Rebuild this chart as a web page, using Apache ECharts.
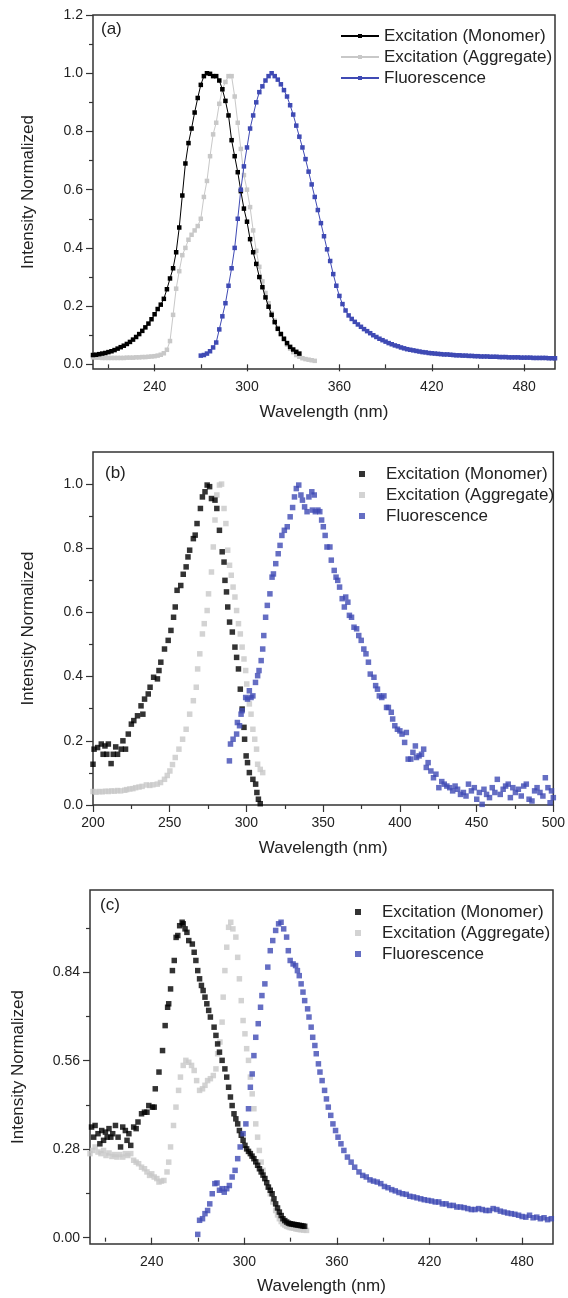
<!DOCTYPE html>
<html>
<head>
<meta charset="utf-8">
<script src="https://cdn.jsdelivr.net/npm/echarts@6/dist/echarts.min.js"></script>
<style>
html,body{margin:0;padding:0;background:#fff;}
#chart{width:568px;height:1298px;}
</style>
</head>
<body>
<div id="chart"></div>
<script>
// ---------- DATA ----------
const seriesNames = ['Excitation (Monomer)', 'Excitation (Aggregate)', 'Fluorescence'];
const panelLabels = ['(a)', '(b)', '(c)'];
const xTitle = 'Wavelength (nm)';
const yTitle = 'Intensity Normalized';

// tick labels
const xLabelsA = [240, 300, 360, 420, 480];
const xMinorA = [210, 270, 330, 390, 450];
const yLabelsA = [0, 0.2, 0.4, 0.6, 0.8, 1.0, 1.2];
const yMinorA = [0.1, 0.3, 0.5, 0.7, 0.9, 1.1];
const xLabelsB = [200, 250, 300, 350, 400, 450, 500];
const xMinorB = [225, 275, 325, 375, 425, 475];
const yLabelsB = [0, 0.2, 0.4, 0.6, 0.8, 1.0];
const yMinorB = [0.1, 0.3, 0.5, 0.7, 0.9];
const xLabelsC = [240, 300, 360, 420, 480];
const xMinorC = [210, 270, 330, 390, 450];
const yLabelsC = [0, 0.28, 0.56, 0.84];
const yMinorC = [0.14, 0.42, 0.70, 0.98];

// Panel (a): [wavelength, intensity]
const aMonomer = [[200,0.032],[202,0.033],[204,0.035],[206,0.037],[208,0.039],[210,0.042],[212,0.045],[214,0.049],[216,0.054],[218,0.059],[220,0.064],[222,0.070],[224,0.077],[226,0.085],[228,0.094],[230,0.104],[232,0.115],[234,0.127],[236,0.140],[238,0.155],[240,0.172],[242,0.190],[244,0.205],[246,0.225],[248,0.258],[250,0.295],[252,0.330],[254,0.385],[256,0.470],[258,0.580],[260,0.690],[262,0.760],[264,0.810],[266,0.865],[268,0.915],[270,0.960],[272,0.990],[274,1.000],[276,0.998],[278,0.990],[280,0.990],[282,0.975],[284,0.945],[286,0.905],[288,0.855],[290,0.770],[292,0.715],[294,0.660],[296,0.595],[298,0.535],[300,0.490],[302,0.430],[304,0.385],[306,0.345],[308,0.300],[310,0.265],[312,0.230],[314,0.198],[316,0.170],[318,0.145],[320,0.122],[322,0.104],[324,0.088],[326,0.073],[328,0.060],[330,0.051],[332,0.043],[334,0.037]];
const aAggregate = [[200,0.024],[202,0.023],[204,0.023],[206,0.022],[208,0.022],[210,0.022],[212,0.022],[214,0.022],[216,0.022],[218,0.022],[220,0.022],[222,0.023],[224,0.023],[226,0.023],[228,0.024],[230,0.024],[232,0.025],[234,0.025],[236,0.026],[238,0.027],[240,0.028],[242,0.030],[244,0.033],[246,0.038],[248,0.050],[250,0.080],[252,0.170],[254,0.260],[256,0.320],[258,0.375],[260,0.400],[262,0.428],[264,0.445],[266,0.460],[268,0.475],[270,0.500],[272,0.575],[274,0.630],[276,0.715],[278,0.790],[280,0.830],[282,0.895],[284,0.945],[286,0.970],[288,0.990],[290,0.990],[292,0.920],[294,0.830],[296,0.740],[298,0.650],[300,0.600],[302,0.540],[304,0.460],[306,0.390],[308,0.335],[310,0.285],[312,0.245],[314,0.210],[316,0.175],[318,0.150],[320,0.125],[322,0.105],[324,0.085],[326,0.068],[328,0.054],[330,0.042],[332,0.032],[334,0.026],[336,0.021],[338,0.018],[340,0.016],[342,0.014],[344,0.012]];
const aFluorescence = [[270,0.030],[272,0.032],[274,0.037],[276,0.045],[278,0.058],[280,0.075],[282,0.120],[284,0.165],[286,0.210],[288,0.270],[290,0.330],[292,0.400],[294,0.500],[296,0.600],[298,0.680],[300,0.745],[302,0.810],[304,0.855],[306,0.900],[308,0.935],[310,0.955],[312,0.975],[314,0.990],[316,1.000],[318,0.990],[320,0.978],[322,0.962],[324,0.942],[326,0.920],[328,0.890],[330,0.858],[332,0.820],[334,0.782],[336,0.745],[338,0.705],[340,0.662],[342,0.618],[344,0.575],[346,0.530],[348,0.485],[350,0.440],[352,0.395],[354,0.355],[356,0.310],[358,0.270],[360,0.235],[362,0.207],[364,0.185],[366,0.168],[368,0.156],[370,0.146],[372,0.137],[374,0.129],[376,0.121],[378,0.114],[380,0.107],[382,0.100],[384,0.094],[386,0.088],[388,0.083],[390,0.078],[392,0.073],[394,0.069],[396,0.065],[398,0.062],[400,0.058],[402,0.055],[404,0.052],[406,0.050],[408,0.048],[410,0.046],[412,0.044],[414,0.042],[416,0.041],[418,0.039],[420,0.038],[422,0.037],[424,0.036],[426,0.035],[428,0.034],[430,0.034],[432,0.033],[434,0.032],[436,0.031],[438,0.031],[440,0.030],[442,0.030],[444,0.029],[446,0.029],[448,0.028],[450,0.028],[452,0.027],[454,0.027],[456,0.027],[458,0.026],[460,0.026],[462,0.026],[464,0.025],[466,0.025],[468,0.025],[470,0.024],[472,0.024],[474,0.024],[476,0.024],[478,0.023],[480,0.023],[482,0.023],[484,0.023],[486,0.022],[488,0.022],[490,0.022],[492,0.022],[494,0.022],[496,0.021],[498,0.021],[500,0.021]];

// Panel (b)
const bMonomer = [[200,0.127],[200.7,0.174],[203,0.179],[205.4,0.19],[206.6,0.158],[207.8,0.184],[209,0.158],[210,0.19],[211.8,0.129],[213.2,0.158],[214.8,0.181],[216,0.158],[218.4,0.174],[219.5,0.2],[221.2,0.174],[223,0.221],[225,0.252],[226.6,0.263],[229,0.278],[231.3,0.309],[232.5,0.283],[233.6,0.33],[236,0.346],[237.2,0.367],[239.5,0.398],[242,0.393],[243,0.419],[244.2,0.445],[246.6,0.486],[249,0.513],[250.8,0.544],[252.5,0.585],[253.6,0.617],[254.8,0.669],[257.2,0.684],[258.8,0.719],[260.7,0.742],[261.9,0.773],[263,0.794],[265.4,0.83],[266.6,0.841],[267.8,0.877],[270,0.924],[271.3,0.96],[273,0.976],[274.4,0.997],[276,0.992],[277.2,0.955],[279.5,0.95],[280.7,0.924],[282.4,0.856],[284.2,0.789],[285.4,0.757],[286,0.7],[287,0.664],[287.8,0.617],[289,0.57],[290.8,0.539],[292.5,0.492],[293.6,0.46],[294.8,0.424],[296,0.361],[297.2,0.299],[298.4,0.242],[298.8,0.205],[299.8,0.153],[300.7,0.132],[301.9,0.101],[304.2,0.08],[306,0.065],[306.8,0.039],[307.8,0.018],[309,0.004]];
const bAggregate = [[200,0.042],[202,0.040],[204,0.042],[206,0.041],[208,0.043],[210,0.042],[212,0.044],[214,0.043],[216,0.045],[218,0.044],[220.7,0.046],[222,0.048],[224,0.050],[226,0.051],[227.8,0.054],[230,0.056],[232,0.058],[234.8,0.0625],[237,0.061],[239,0.063],[241.9,0.065],[244,0.070],[246.6,0.08],[248.4,0.092],[250.1,0.106],[251.8,0.126],[253.6,0.148],[256,0.174],[258.4,0.205],[260.7,0.236],[263,0.283],[265.4,0.325],[267.3,0.367],[268.2,0.424],[269.6,0.471],[271.3,0.533],[272.5,0.565],[274.4,0.606],[275.3,0.658],[277.2,0.726],[278.4,0.804],[279.5,0.888],[280.7,0.966],[282.4,0.997],[283.8,1.0],[285.4,0.924],[286.6,0.877],[287.8,0.794],[289,0.747],[290.1,0.716],[291.3,0.679],[292.5,0.648],[293.6,0.606],[294.8,0.565],[296,0.533],[297.2,0.492],[298.4,0.455],[299.5,0.419],[300.2,0.377],[301.9,0.315],[303,0.283],[304.2,0.236],[305.4,0.205],[306.6,0.174],[307.3,0.127],[309,0.111],[310.6,0.101]];
const bFluorescence = [[288.9,0.1375],[289.6,0.19],[291.3,0.205],[293.6,0.221],[294.1,0.257],[295.5,0.247],[296.5,0.283],[297.2,0.294],[299.5,0.335],[300.7,0.33],[301.9,0.356],[303,0.335],[304.2,0.34],[305.9,0.382],[307.3,0.403],[308.2,0.419],[309.6,0.45],[310.6,0.486],[311.3,0.528],[312.5,0.585],[313.6,0.622],[315.3,0.658],[316.7,0.71],[317.6,0.72],[319.1,0.752],[320.7,0.783],[321.9,0.809],[323.1,0.84],[324.7,0.856],[326.6,0.867],[328.5,0.898],[330.1,0.927],[331.3,0.96],[332.5,0.986],[334.1,0.997],[335.5,0.966],[336.5,0.95],[337.9,0.929],[339.5,0.914],[340.7,0.96],[342.6,0.976],[344.2,0.966],[343,0.919],[344.9,0.914],[346.6,0.919],[347.8,0.914],[349,0.888],[350.1,0.867],[351.3,0.84],[352.5,0.804],[354.4,0.804],[355.3,0.763],[357.2,0.731],[358.4,0.71],[359.5,0.7],[360.7,0.679],[362.4,0.643],[363.8,0.617],[364.7,0.648],[366.1,0.632],[367.1,0.591],[368.5,0.585],[370.1,0.554],[371.8,0.549],[373.2,0.528],[374.8,0.513],[376.5,0.486],[377.9,0.471],[379.5,0.445],[380.7,0.408],[383.1,0.398],[384.2,0.372],[385.4,0.361],[386.6,0.34],[388.2,0.335],[389.6,0.34],[391.3,0.304],[392.5,0.304],[394.4,0.289],[395.3,0.268],[396.7,0.247],[398.4,0.236],[400,0.231],[401.4,0.221],[403.1,0.195],[404.2,0.226],[405.4,0.143],[407.1,0.143],[408.5,0.164],[410.1,0.184],[410.8,0.148],[412.5,0.153],[414.1,0.158],[415.5,0.174],[417.2,0.117],[418.4,0.132],[420.2,0.106],[421.9,0.085],[423.5,0.096],[425.4,0.054],[427.3,0.073],[428.9,0.065],[430.6,0.059],[432.5,0.054],[434.4,0.044],[436,0.059],[437.6,0.049],[439.5,0.033],[441.4,0.039],[443.1,0.028],[444.7,0.065],[446.6,0.044],[448.5,0.054],[450.1,0.018],[451.8,0.039],[453.6,0.002],[454.8,0.049],[456.5,0.033],[458.4,0.023],[460.2,0.054],[461.9,0.039],[463.5,0.08],[465.4,0.033],[467.3,0.049],[468.9,0.059],[470.6,0.065],[472,0.023],[473.6,0.054],[475.3,0.039],[477.2,0.049],[479.1,0.028],[480.7,0.059],[482.4,0.065],[484.2,0.018],[486.1,0.0125],[487.8,0.044],[489.4,0.054],[491.3,0.039],[493.2,0.028],[494.8,0.085],[496.5,0.054],[497.9,0.007],[498.8,0.044],[500,0.023]];

// Panel (c)
const cMonomer = [[201,0.35],[202.4,0.318],[203.3,0.355],[205.2,0.329],[206.4,0.297],[207.6,0.339],[208.8,0.308],[210,0.334],[211.1,0.318],[212.3,0.345],[213.5,0.318],[214.7,0.329],[216.5,0.355],[218.2,0.318],[219.8,0.287],[221.2,0.35],[222.9,0.339],[224,0.308],[225.2,0.329],[226.4,0.292],[228.3,0.35],[229.9,0.345],[231.1,0.366],[233.4,0.392],[235.3,0.397],[236.9,0.397],[238.1,0.418],[240.5,0.413],[241.6,0.413],[242.3,0.471],[244.7,0.524],[247,0.592],[248.7,0.671],[250.3,0.729],[251,0.74],[252.2,0.787],[253.4,0.845],[254.6,0.877],[255.8,0.95],[256.9,0.956],[258.1,0.987],[259.7,0.998],[260.4,0.993],[261.6,0.977],[262.8,0.966],[264,0.94],[266.3,0.929],[267.5,0.903],[268.6,0.877],[269.8,0.845],[271,0.819],[272.2,0.798],[273.3,0.782],[274.5,0.761],[275.7,0.74],[276.9,0.719],[278,0.698],[280.4,0.666],[281.6,0.64],[282.7,0.613],[283.9,0.587],[285.6,0.561],[287.4,0.534],[288.6,0.508],[289.8,0.476],[291,0.445],[292.1,0.418],[293.3,0.392],[294.5,0.376],[295.7,0.36],[296.8,0.339],[298,0.324],[299.2,0.308],[300.4,0.292],[301.5,0.281],[302.7,0.273],[303.9,0.266],[305,0.258],[306.2,0.25],[307.4,0.24],[308.6,0.229],[309.8,0.218],[310.9,0.208],[312.1,0.198],[313.3,0.187],[314.5,0.174],[315.6,0.16],[316.8,0.15],[318,0.139],[319.2,0.123],[320.3,0.107],[321.5,0.094],[322.7,0.081],[323.9,0.07],[325,0.06],[326.2,0.054],[327.4,0.0495],[328.6,0.046],[329.7,0.044],[330.9,0.043],[332.1,0.042],[333.3,0.041],[334.4,0.04],[335.6,0.039],[336.8,0.038],[338,0.037],[339.1,0.036]];
const cAggregate = [[200,0.266],[201.7,0.276],[203.3,0.287],[205.2,0.271],[207.1,0.266],[208.8,0.276],[210.4,0.26],[212.3,0.268],[214.2,0.257],[215.8,0.263],[217.5,0.255],[219.3,0.263],[221.2,0.255],[222.9,0.266],[224.5,0.26],[226.4,0.266],[228.3,0.245],[229.9,0.239],[231.5,0.234],[233.4,0.223],[235.3,0.218],[236.9,0.208],[238.6,0.197],[240,0.202],[241.6,0.192],[243.3,0.187],[244.7,0.176],[246.3,0.179],[247.9,0.181],[249.9,0.208],[251,0.239],[252.2,0.287],[254.1,0.355],[255.7,0.413],[257.4,0.466],[258.6,0.508],[260.4,0.545],[262.1,0.561],[264,0.555],[265.8,0.545],[267.5,0.529],[269.1,0.497],[271,0.466],[272.9,0.471],[274.5,0.482],[276.2,0.497],[278,0.503],[279.9,0.513],[281.6,0.534],[282.7,0.582],[284.2,0.619],[285.6,0.682],[286.3,0.761],[287.4,0.845],[288.6,0.919],[289.8,0.982],[291.2,0.998],[292.6,0.977],[294.5,0.951],[295.7,0.887],[296.8,0.819],[298,0.75],[299.2,0.687],[300.4,0.645],[301.5,0.598],[302.7,0.561],[303.9,0.508],[305.1,0.455],[306.2,0.408],[307.4,0.36],[308.6,0.318],[309.7,0.276],[310.9,0.239],[312.1,0.213],[313.3,0.187],[315.2,0.16],[316.8,0.139],[318.4,0.113],[320.3,0.086],[321.5,0.072],[322.7,0.06],[323.9,0.051],[325,0.044],[326.2,0.04],[327.4,0.036],[328.6,0.034],[329.7,0.032],[330.9,0.031],[332.1,0.03],[333.3,0.028],[334.4,0.027],[335.6,0.026],[336.8,0.025],[338.5,0.024],[340.3,0.023]];
const cFluorescence = [[269.8,0.0105],[271,0.055],[272.9,0.06],[274.5,0.076],[276.2,0.086],[277.6,0.107],[279.2,0.139],[280.9,0.171],[282.3,0.173],[283.9,0.15],[285.6,0.155],[287,0.144],[288.6,0.155],[290.3,0.165],[292.1,0.192],[294,0.213],[295.7,0.25],[297.3,0.287],[299.2,0.329],[301,0.36],[302.7,0.408],[303.9,0.476],[305.1,0.518],[306.2,0.576],[307.4,0.634],[309,0.677],[310.5,0.729],[311.4,0.766],[313.3,0.803],[315.2,0.856],[316.8,0.908],[318.4,0.94],[320.3,0.972],[322.2,0.993],[323.8,0.998],[325.5,0.977],[327.4,0.951],[328.5,0.908],[329.7,0.877],[331.6,0.866],[333.2,0.861],[334.4,0.845],[335.6,0.829],[336.8,0.803],[338,0.777],[339.1,0.75],[341,0.724],[341.9,0.698],[343.3,0.666],[344.3,0.634],[345.7,0.608],[346.6,0.582],[348,0.55],[349,0.524],[350.4,0.497],[352,0.466],[353.2,0.439],[354.4,0.413],[356,0.387],[357.4,0.36],[359.1,0.339],[360.7,0.318],[362.6,0.297],[364.5,0.276],[366.8,0.255],[369.2,0.239],[371.5,0.223],[374.3,0.208],[376.7,0.197],[379,0.192],[381.4,0.183],[383.7,0.179],[386.1,0.176],[388.4,0.171],[390.8,0.162],[393.1,0.158],[395.5,0.152],[397.8,0.148],[400.2,0.143],[402.5,0.139],[404.9,0.137],[407.2,0.131],[409.6,0.129],[411.9,0.126],[414.3,0.123],[416.6,0.12],[419,0.118],[421.3,0.116],[423.7,0.113],[426,0.113],[428.3,0.107],[430.7,0.107],[433,0.102],[435.4,0.102],[437.7,0.097],[440.1,0.097],[442.4,0.095],[444.8,0.092],[447.1,0.089],[449.5,0.089],[451.8,0.092],[454.2,0.089],[456.5,0.086],[458.8,0.086],[461.2,0.092],[463.6,0.089],[465.9,0.084],[468.3,0.081],[470.6,0.078],[473,0.076],[475.3,0.074],[477.7,0.071],[480,0.067],[482.4,0.065],[484.8,0.071],[487.1,0.063],[489.5,0.065],[491.8,0.06],[494.2,0.063],[496.5,0.057],[498.9,0.06]];

// ---------- CHART ----------
const FONT = '"Liberation Sans", Arial, Helvetica, sans-serif';
const COLORS = ['#000000', '#c8c8c8', '#3f4ab4'];
const AXIS_COLOR = '#333333';
const TEXT_COLOR = '#222222';

const panels = [
  { grid: {left: 93, top: 15, width: 462, height: 354}, yMin: -0.016, yMax: 1.2,
    xLab: xLabelsA, xMin: xMinorA, yLab: yLabelsA, yMin2: yMinorA, yDec: 1,
    data: [aMonomer, aAggregate, aFluorescence], type: 'line', sym: 4.5,
    xNameGap: 35, yNameGap: 56,
    legend: {left: 335, top: 21}, label: {left: 101, top: 21} },
  { grid: {left: 93, top: 452, width: 464, height: 353}, yMin: 0, yMax: 1.1,
    xLab: xLabelsB, xMin: xMinorB, yLab: yLabelsB, yMin2: yMinorB, yDec: 1,
    data: [bMonomer, bAggregate, bFluorescence], type: 'scatter', sym: 5.5,
    xNameGap: 35, yNameGap: 56,
    legend: {left: 354, top: 459}, label: {left: 105, top: 465} },
  { grid: {left: 90, top: 890, width: 463, height: 354}, yMin: -0.02, yMax: 1.1,
    xLab: xLabelsC, xMin: xMinorC, yLab: yLabelsC, yMin2: yMinorC, yDec: 2,
    data: [cMonomer, cAggregate, cFluorescence], type: 'scatter', sym: 5.5,
    xNameGap: 34, yNameGap: 63,
    legend: {left: 350, top: 897}, label: {left: 100, top: 897} }
];

const option = {
  animation: false,
  backgroundColor: '#ffffff',
  textStyle: {fontFamily: FONT},
  grid: [], xAxis: [], yAxis: [], series: [], legend: [], title: []
};

const suffix = ['|a', '|b', '|c'];
const drawOrder = [1, 0, 2];

panels.forEach((p, i) => {
  option.grid.push(Object.assign({show: true, borderColor: AXIS_COLOR, borderWidth: 1.5,
    backgroundColor: 'transparent'}, p.grid));
  const tickStyle = {color: AXIS_COLOR, width: 1.2};
  option.xAxis.push({
    type: 'value', gridIndex: i, min: 200, max: 500, position: 'bottom',
    axisLine: {show: false},
    axisTick: {show: true, length: 7, customValues: p.xLab, lineStyle: tickStyle},
    axisLabel: {customValues: p.xLab, margin: 11, fontSize: 14, color: TEXT_COLOR, fontFamily: FONT,
      formatter: v => String(Math.round(v))},
    splitLine: {show: false},
    name: xTitle, nameLocation: 'middle', nameGap: p.xNameGap,
    nameTextStyle: {fontSize: 17, color: TEXT_COLOR, fontFamily: FONT}
  });
  option.xAxis.push({
    type: 'value', gridIndex: i, min: 200, max: 500, position: 'bottom',
    axisLine: {show: false},
    axisTick: {show: true, length: 4, customValues: p.xMin, lineStyle: tickStyle},
    axisLabel: {show: false}, splitLine: {show: false}
  });
  option.yAxis.push({
    type: 'value', gridIndex: i, min: p.yMin, max: p.yMax, position: 'left',
    axisLine: {show: false},
    axisTick: {show: true, length: 7, customValues: p.yLab, lineStyle: tickStyle},
    axisLabel: {customValues: p.yLab, margin: 10, fontSize: 14, color: TEXT_COLOR, fontFamily: FONT,
      formatter: v => Number(v).toFixed(p.yDec)},
    splitLine: {show: false},
    name: yTitle, nameLocation: 'middle', nameGap: p.yNameGap, nameRotate: 90,
    nameTextStyle: {fontSize: 17, color: TEXT_COLOR, fontFamily: FONT}
  });
  option.yAxis.push({
    type: 'value', gridIndex: i, min: p.yMin, max: p.yMax, position: 'left',
    axisLine: {show: false},
    axisTick: {show: true, length: 4, customValues: p.yMin2, lineStyle: tickStyle},
    axisLabel: {show: false}, splitLine: {show: false}
  });

  drawOrder.forEach(k => {
    const s = {
      name: seriesNames[k] + suffix[i],
      type: p.type,
      xAxisIndex: i * 2, yAxisIndex: i * 2,
      data: p.data[k],
      symbol: 'rect', symbolSize: p.sym,
      itemStyle: {color: COLORS[k]},
      z: 2 + (k === 1 ? 0 : 1)
    };
    if (p.type === 'line') {
      s.showSymbol = true; s.showAllSymbol = true;
      s.lineStyle = {width: 1, color: COLORS[k]};
    }
    option.series.push(s);
  });

  const isLine = p.type === 'line';
  option.legend.push({
    orient: 'vertical', left: p.legend.left, top: p.legend.top,
    data: seriesNames.map(n => n + suffix[i]),
    formatter: n => n.split('|')[0],
    itemWidth: isLine ? 38 : 6, itemHeight: isLine ? 5 : 6,
    itemGap: 1, selectedMode: false,
    textStyle: {fontSize: 17, color: TEXT_COLOR, fontFamily: FONT, lineHeight: 20,
      padding: isLine ? [0, 0, 0, 0] : [0, 0, 0, 16]}
  });

  option.title.push({
    text: panelLabels[i], left: p.label.left, top: p.label.top,
    padding: 0,
    textStyle: {fontSize: 17, fontWeight: 'normal', color: TEXT_COLOR, fontFamily: FONT}
  });
});

const chart = echarts.init(document.getElementById('chart'), null, {renderer: 'canvas'});
chart.setOption(option);
</script>
</body>
</html>
